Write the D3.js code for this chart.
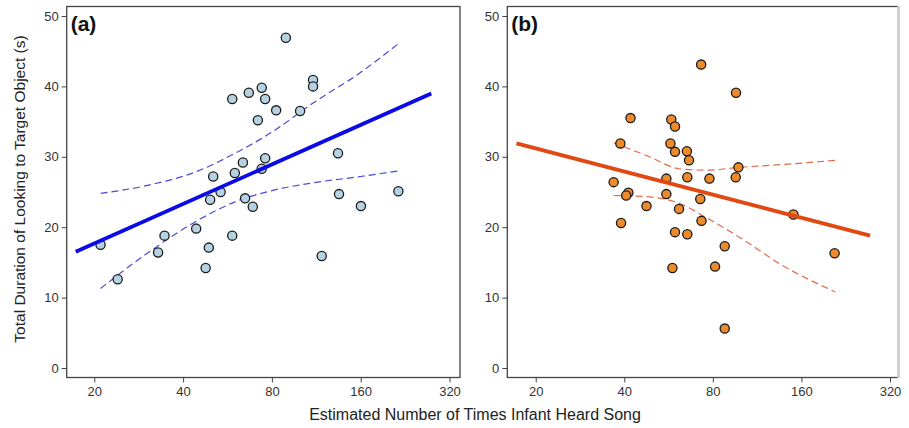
<!DOCTYPE html>
<meta charset="utf-8">
<style>
body { margin: 0; background: #fff; }
svg text { font-family: "Liberation Sans", Arial, sans-serif; fill: #222; }
.tick text { font-family: "Liberation Sans Narrow", "Liberation Sans", Arial, sans-serif; font-size: 13px; }
</style>
<svg width="909" height="428"></svg>
<script src="https://d3js.org/d3.v7.min.js"></script>
<script>

// tick labels
var xTicks = [20, 40, 80, 160, 320];
var yTicks = [0, 10, 20, 30, 40, 50];

// panel (a) points: times heard, seconds looking
var aX = [89.2, 110.3, 110.3, 58.7, 66.8, 73.9, 75.9, 82.7, 99.7, 71.7, 134, 75.9, 63.8, 50.6, 59.9, 73.9,
          53.6, 135.1, 214.7, 49.4, 64.9, 68.9, 160.3, 21.0, 34.6, 32.9, 44.3, 48.9, 47.7, 58.7, 24.0, 118];
var aY = [46.9, 40.9, 40.0, 38.2, 39.1, 39.8, 38.2, 36.6, 36.5, 35.2, 30.5, 29.8, 29.2, 27.2, 27.7, 28.3,
          25.0, 24.7, 25.1, 23.9, 24.1, 22.9, 23.0, 17.5, 18.8, 16.4, 19.8, 17.1, 14.2, 18.8, 12.6, 15.9];
// panel (a) fit and confidence bands
var aFitX = [17.3, 277.6];
var aFitY = [16.5, 39.0];
var aBandX = [21, 30, 45, 60, 80, 110, 160, 215];
var aUpper = [24.8, 25.9, 28.0, 30.5, 33.5, 37.6, 42.0, 46.1];
var aLower = [11.3, 16.2, 21.0, 23.6, 25.2, 26.3, 27.2, 28.0];

// panel (b) points
var bX = [73.0, 95.9, 42.0, 57.8, 59.5, 38.8, 57.4, 65.3, 59.5, 66.4, 97.7, 95.7, 77.9, 65.5, 55.6, 36.8,
          41.3, 55.6, 72.5, 40.6, 47.6, 61.4, 39.0, 73.2, 59.5, 65.5, 87.8, 150.3, 207.4, 58.3, 81.4, 87.8];
var bY = [43.1, 39.1, 35.5, 35.3, 34.3, 31.9, 31.9, 30.8, 30.7, 29.5, 28.5, 27.1, 26.9, 27.1, 26.9, 26.4,
          24.9, 24.7, 24.0, 24.5, 23.0, 22.6, 20.6, 20.9, 19.3, 19.0, 17.3, 21.8, 16.3, 14.2, 14.4, 5.6];
var bFitX = [17.2, 273.9];
var bFitY = [31.9, 18.8];
var bBandX = [36.8, 48.7, 61.5, 75.7, 98.2, 137.6, 208.5];
var bUpper = [32.0, 30.0, 28.3, 28.1, 28.5, 28.9, 29.5];
var bLower = [24.5, 24.3, 23.4, 21.4, 18.6, 14.6, 10.8];

var svg = d3.select("svg");

function panel(opt) {
  var g = svg.append("g");
  var x = d3.scaleLog().base(2).domain([20, 320]).range(opt.xr);
  var y = d3.scaleLinear().domain([0, 50]).range([368, 16]);

  // frame
  g.append("rect")
    .attr("x", opt.fx0).attr("y", 6.5)
    .attr("width", opt.fx1 - opt.fx0).attr("height", 377.5 - 6.5)
    .attr("fill", "none").attr("stroke", "#444").attr("stroke-width", 1.3);
  if (opt.greyRight) {
    g.append("line").attr("x1", opt.fx1).attr("x2", opt.fx1).attr("y1", 6).attr("y2", 378)
      .attr("stroke", "#ccc").attr("stroke-width", 2.5);
  }

  var xa = g.append("g").attr("transform", "translate(0,377.5)")
    .call(d3.axisBottom(x).tickValues(xTicks).tickFormat(d3.format("d")).tickSize(5).tickPadding(4));
  xa.select(".domain").remove();
  var ya = g.append("g").attr("transform", "translate(" + opt.fx0 + ",0)")
    .call(d3.axisLeft(y).tickValues(yTicks).tickSize(5).tickPadding(3));
  ya.select(".domain").remove();
  g.selectAll(".tick line").attr("stroke", "#444");
  g.selectAll(".tick text").style("fill", "#333");

  var band = d3.line().x(function(d) { return x(d[0]); }).y(function(d) { return y(d[1]); })
    .curve(d3.curveMonotoneX);
  g.append("path").datum(d3.zip(opt.bandX, opt.upper)).attr("d", band)
    .attr("fill", "none").attr("stroke", opt.dash).attr("stroke-width", 1.2).attr("stroke-dasharray", "7,4");
  g.append("path").datum(d3.zip(opt.bandX, opt.lower)).attr("d", band)
    .attr("fill", "none").attr("stroke", opt.dash).attr("stroke-width", 1.2).attr("stroke-dasharray", "7,4");

  g.append("g").selectAll("circle")
    .data(d3.zip(opt.px, opt.py))
    .enter().append("circle")
    .attr("cx", function(d) { return x(d[0]); })
    .attr("cy", function(d) { return y(d[1]); })
    .attr("r", 4.6)
    .attr("fill", opt.fill).attr("stroke", "#1a1a1a").attr("stroke-width", 1.3);

  g.append("path").datum(d3.zip(opt.fitX, opt.fitY)).attr("d", band.curve(d3.curveLinear))
    .attr("fill", "none").attr("stroke", opt.line).attr("stroke-width", 3.8);

  g.append("text").attr("x", opt.fx0 + 4).attr("y", 31)
    .style("font-size", "21px").style("font-weight", "bold").style("fill", "#111")
    .text(opt.label);
}

panel({ xr: [94.3, 449.5], fx0: 66.7, fx1: 460, px: aX, py: aY, fitX: aFitX, fitY: aFitY,
        bandX: aBandX, upper: aUpper, lower: aLower, fill: "#b5d2e2", line: "#0a0ae6", dash: "#4a4ad8", label: "(a)" });
panel({ xr: [535.7, 890], fx0: 507.3, fx1: 898.5, greyRight: true, px: bX, py: bY, fitX: bFitX, fitY: bFitY,
        bandX: bBandX, upper: bUpper, lower: bLower, fill: "#ec8a2c", line: "#e04a12", dash: "#e06a4a", label: "(b)" });

svg.append("text")
  .attr("transform", "translate(25,189) rotate(-90)")
  .attr("text-anchor", "middle")
  .style("font-size", "15.5px")
  .text("Total Duration of Looking to Target Object (s)");

svg.append("text")
  .attr("x", 475).attr("y", 420)
  .attr("text-anchor", "middle")
  .style("font-size", "16px")
  .text("Estimated Number of Times Infant Heard Song");

</script>
